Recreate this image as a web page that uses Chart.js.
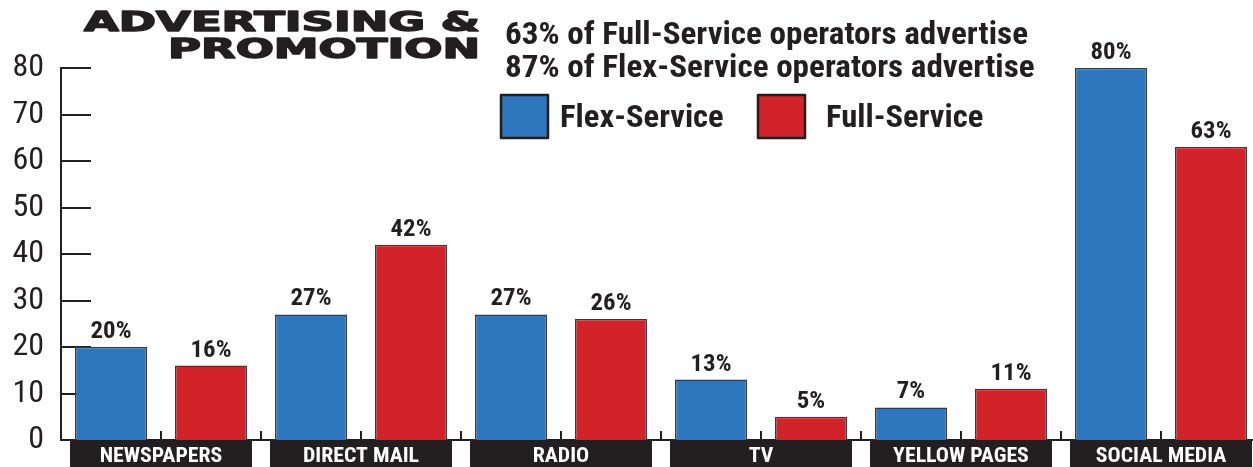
<!DOCTYPE html><html><head><meta charset="utf-8">
<script src="https://cdn.jsdelivr.net/npm/chart.js@4.4.1/dist/chart.umd.min.js"></script>
<style>html,body{margin:0;padding:0;background:#fff;overflow:hidden}#wrap{width:1253px;height:467px;overflow:hidden}canvas{display:block}</style>
</head><body><div id="wrap"><canvas id="c" width="1261" height="467"></canvas></div>
<script>
const categories = ['NEWSPAPERS','DIRECT MAIL','RADIO','TV','YELLOW PAGES','SOCIAL MEDIA'];
const flexService = [20,27,27,13,7,80];
const fullService = [16,42,26,5,11,63];
const yTicks = [0,10,20,30,40,50,60,70,80];
const titleLines = ['ADVERTISING &','PROMOTION'];
const subtitleLines = ['63% of Full-Service operators advertise','87% of Flex-Service operators advertise'];
const seriesNames = ['Flex-Service','Full-Service'];
const seriesColors = ['#2e76be','#d2232a'];

const INK = '#231f20';
const COND = '"Roboto Condensed","DejaVu Sans Condensed",sans-serif';

function wideText(ctx, t, x, y, sx) {
  ctx.save(); ctx.translate(x, y); ctx.scale(sx, 1); ctx.fillText(t, 0, 0); ctx.restore();
}

const decor = {
  id: 'decor',
  beforeDatasetsDraw(chart) {
    const ctx = chart.ctx, y = chart.scales.y, x = chart.scales.x, a = chart.chartArea;
    ctx.save();
    ctx.strokeStyle = INK; ctx.lineWidth = 2;
    yTicks.forEach(v => {
      const py = Math.round(y.getPixelForValue(v));
      ctx.beginPath(); ctx.moveTo(a.left, py); ctx.lineTo(a.left + 30, py); ctx.stroke();
    });
    const cw = x.width / categories.length;
    for (let i = 0; i < categories.length; i++) {
      const c = x.getPixelForValue(i);
      [c, c + cw / 2].forEach(px => {
        ctx.beginPath(); ctx.moveTo(px, a.bottom); ctx.lineTo(px, a.bottom - 9); ctx.stroke();
      });
    }
    ctx.restore();
  },
  afterDatasetsDraw(chart) {
    const ctx = chart.ctx, x = chart.scales.x, a = chart.chartArea;
    ctx.save();
    ctx.fillStyle = INK;
    ctx.font = 'bold 23px ' + COND;
    ctx.textAlign = 'center'; ctx.textBaseline = 'alphabetic';
    chart.data.datasets.forEach((ds, di) => {
      chart.getDatasetMeta(di).data.forEach((bar, i) => {
        wideText(ctx, ds.data[i] + '%', bar.x, bar.y - 9, 1.08);
      });
    });
    const cw = x.width / categories.length;
    categories.forEach((c, i) => {
      const cx = x.getPixelForValue(i);
      const bw = cw * 0.91;
      ctx.fillStyle = INK;
      ctx.fillRect(cx - bw / 2, a.bottom + 1, bw, 27);
      ctx.fillStyle = '#fff';
      ctx.font = 'bold 20px ' + COND;
      ctx.textBaseline = 'alphabetic';
      wideText(ctx, c, cx, a.bottom + 22, 1.09);
    });
    // title
    ctx.fillStyle = INK; ctx.strokeStyle = INK; ctx.lineWidth = 1.4; ctx.lineJoin = 'round';
    ctx.font = 'bold 26px "DejaVu Sans"';
    ctx.textAlign = 'right'; ctx.textBaseline = 'alphabetic';
    const w1 = ctx.measureText(titleLines[0]).width;
    const sx = 396 / w1;
    [[titleLines[0], 31], [titleLines[1], 58]].forEach(([t, by]) => {
      ctx.save(); ctx.translate(480, by); ctx.scale(sx, 1); ctx.fillText(t, 0, 0); ctx.strokeText(t, 0, 0); ctx.restore();
    });
    // subtitle
    ctx.textAlign = 'left';
    ctx.font = 'bold 32px ' + COND;
    const ss = 523 / ctx.measureText(subtitleLines[0]).width;
    wideText(ctx, subtitleLines[0], 505, 44, ss);
    wideText(ctx, subtitleLines[1], 505, 77, ss);
    // legend
    const lx = [501, 758], tx = [560, 826];
    seriesNames.forEach((n, i) => {
      ctx.fillStyle = seriesColors[i];
      ctx.fillRect(lx[i], 95, 47, 43);
      ctx.strokeStyle = INK; ctx.lineWidth = 2.5;
      ctx.strokeRect(lx[i], 95, 47, 43);
      ctx.fillStyle = INK;
      ctx.font = 'bold 32px ' + COND;
      ctx.textBaseline = 'alphabetic';
      wideText(ctx, n, tx[i], 127, 1.02);
    });
    ctx.restore();
  }
};

new Chart(document.getElementById('c'), {
  type: 'bar',
  data: {
    labels: categories,
    datasets: [
      { label: seriesNames[0], data: flexService, backgroundColor: seriesColors[0], borderColor: '#3a3a3a', borderWidth: 1.5 },
      { label: seriesNames[1], data: fullService, backgroundColor: seriesColors[1], borderColor: '#3a3a3a', borderWidth: 1.5 }
    ]
  },
  options: {
    responsive: false, animation: false,
    layout: { padding: { top: 68, bottom: 0, right: 0, left: 0 } },
    plugins: { legend: { display: false }, tooltip: { enabled: false } },
    datasets: { bar: { categoryPercentage: 1.0, barPercentage: 0.72 } },
    scales: {
      x: {
        ticks: { display: false },
        grid: { display: false, drawTicks: false },
        border: { display: true, color: INK, width: 2 },
        afterFit: s => { s.height = 27; s.paddingLeft = 0; s.paddingRight = 0; }
      },
      y: {
        min: 0, max: 80,
        afterBuildTicks: s => { s.ticks = yTicks.map(v => ({ value: v })); },
        afterFit: s => { s.width = 61; s.paddingTop = 0; s.paddingBottom = 0; },
        ticks: { color: INK, font: { family: COND, size: 32 }, padding: 17 },
        grid: { display: false, drawTicks: false },
        border: { display: true, color: INK, width: 2 }
      }
    }
  },
  plugins: [decor]
});
</script></body></html>
